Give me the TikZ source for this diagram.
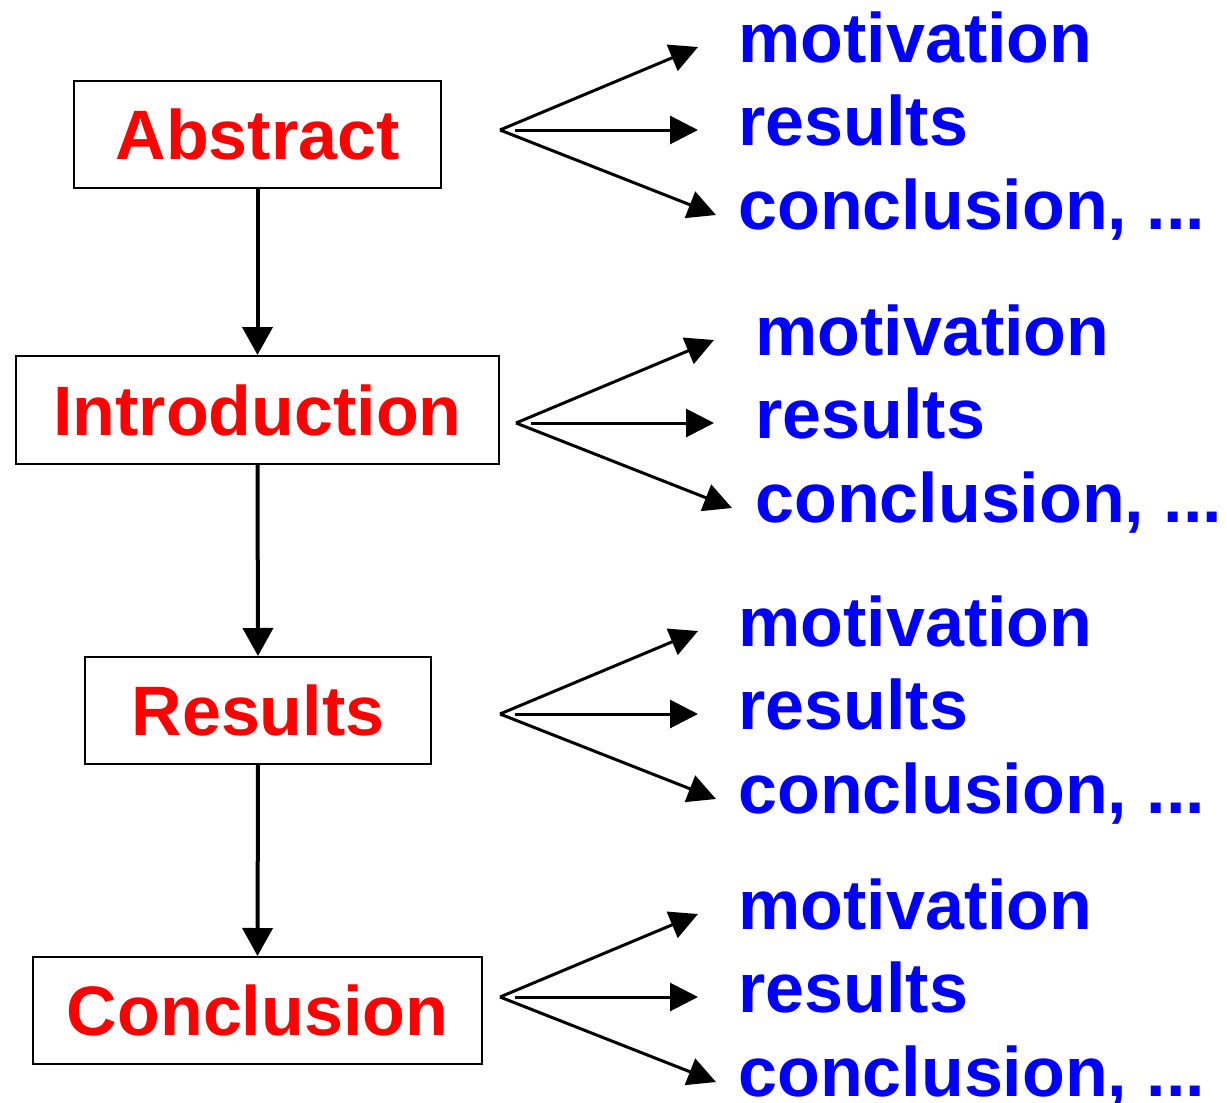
\documentclass[tikz,border=0pt]{standalone}
\usepackage{fontspec}
\setmainfont{Liberation Sans}
\usetikzlibrary{arrows.meta}
\begin{document}
\begin{tikzpicture}[x=0.5pt,y=-0.5pt,
  box/.style={draw,line width=1pt,inner sep=0pt,font=\fontsize{35}{40}\selectfont\bfseries,text=red},
  item/.style={anchor=base west,inner sep=0pt,font=\fontsize{35}{40}\selectfont\bfseries,text=blue},
  fan/.style={line width=1.5pt,-{Triangle[length=14pt,width=14pt]}},
  down/.style={line width=2pt,-{Triangle[length=14pt,width=15pt]}}]
\useasboundingbox (0,0) rectangle (1227,1103);
% boxes
\node[box,minimum width=183.5pt,minimum height=53.5pt] (abs) at (257.5,134.5) {Abstract};
\node[box,minimum width=241.5pt,minimum height=54pt] (intro) at (257.5,410) {Introduction};
\node[box,minimum width=173pt,minimum height=53.5pt] (res) at (258,710.5) {Results};
\node[box,minimum width=224.5pt,minimum height=53.5pt] (conc) at (257.5,1010.5) {Conclusion};
\draw[down] (abs.south) -- (intro.north);
\draw[down] (intro.south) -- (res.north);
\draw[down] (res.south) -- (conc.north);
% fans
\foreach \i/\vx/\vy/\tx in {1/500/130/738, 2/516/423/755, 3/500/714/738, 4/500/997/738}{
  \coordinate (v\i) at (\vx,\vy);
  \coordinate (m\i) at (\vx+15,\vy);
  \coordinate (u\i) at (\vx+198,\vy-83);
  \coordinate (c\i) at (\vx+198,\vy);
  \coordinate (d\i) at (\vx+216,\vy+85);
  \node[item] (mo\i) at (\tx,\vy-68) {motivation};
  \node[item] (re\i) at (\tx,\vy+15) {results};
  \node[item] (co\i) at (\tx,\vy+99) {conclusion, ...};
  \draw[fan] (v\i) -- (u\i);
  \draw[fan] (m\i) -- (c\i);
  \draw[fan] (v\i) -- (d\i);
}
\end{tikzpicture}
\end{document}
